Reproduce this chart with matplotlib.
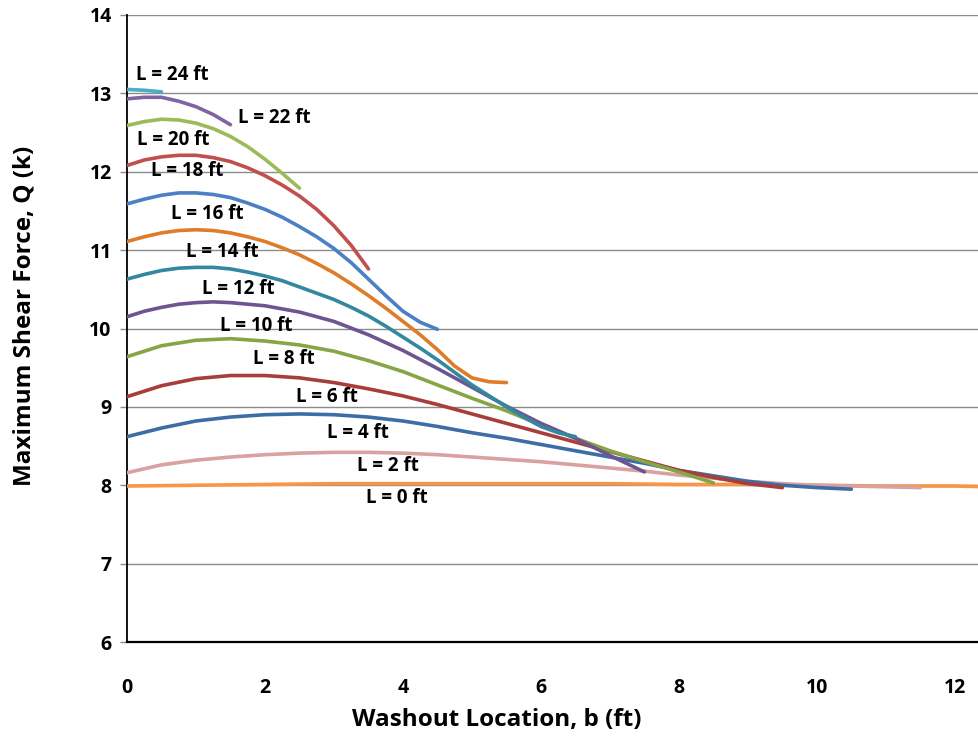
import matplotlib.pyplot as plt

# Washout location b (ft) and maximum shear Q (k) for each span length L
b_24 = [0, 0.25, 0.5]
q_24 = [13.05, 13.04, 13.02]

b_22 = [0, 0.25, 0.5, 0.75, 1.0, 1.25, 1.5]
q_22 = [12.93, 12.95, 12.95, 12.90, 12.83, 12.73, 12.60]

b_20 = [0, 0.25, 0.5, 0.75, 1.0, 1.25, 1.5, 1.75, 2.0, 2.25, 2.5]
q_20 = [12.59, 12.64, 12.67, 12.66, 12.62, 12.55, 12.45, 12.32, 12.16, 11.98, 11.79]

b_18 = [0, 0.25, 0.5, 0.75, 1.0, 1.25, 1.5, 1.75, 2.0, 2.25, 2.5, 2.75, 3.0, 3.25, 3.5]
q_18 = [12.08, 12.15, 12.19, 12.21, 12.21, 12.18, 12.13, 12.05, 11.95, 11.83, 11.69,
        11.52, 11.31, 11.06, 10.76]

b_16 = [0, 0.25, 0.5, 0.75, 1.0, 1.25, 1.5, 1.75, 2.0, 2.25, 2.5, 2.75, 3.0, 3.25,
        3.5, 3.75, 4.0, 4.25, 4.5]
q_16 = [11.59, 11.65, 11.70, 11.73, 11.73, 11.71, 11.67, 11.60, 11.52, 11.42, 11.30,
        11.17, 11.02, 10.84, 10.63, 10.42, 10.22, 10.08, 9.99]

b_14 = [0, 0.25, 0.5, 0.75, 1.0, 1.25, 1.5, 1.75, 2.0, 2.25, 2.5, 2.75, 3.0, 3.25,
        3.5, 3.75, 4.0, 4.25, 4.5, 4.75, 5.0, 5.25, 5.5]
q_14 = [11.11, 11.17, 11.22, 11.25, 11.26, 11.25, 11.22, 11.17, 11.11, 11.03, 10.94,
        10.83, 10.71, 10.57, 10.42, 10.26, 10.09, 9.92, 9.73, 9.52, 9.37, 9.32, 9.31]

b_12 = [0, 0.25, 0.5, 0.75, 1.0, 1.25, 1.5, 1.75, 2.0, 2.25, 2.5, 2.75, 3.0, 3.25,
        3.5, 3.75, 4.0, 4.25, 4.5, 4.75, 5.0, 5.25, 5.5, 5.75, 6.0, 6.25, 6.5]
q_12 = [10.63, 10.69, 10.74, 10.77, 10.78, 10.78, 10.76, 10.72, 10.67, 10.61, 10.53,
        10.45, 10.37, 10.27, 10.16, 10.03, 9.89, 9.75, 9.60, 9.44, 9.28, 9.14, 9.00,
        8.87, 8.75, 8.67, 8.62]

b_10 = [0, 0.25, 0.5, 0.75, 1.0, 1.25, 1.5, 2.0, 2.5, 3.0, 3.5, 4.0, 4.5, 5.0, 5.5,
        6.0, 6.5, 7.0, 7.5]
q_10 = [10.15, 10.22, 10.27, 10.31, 10.33, 10.34, 10.33, 10.29, 10.21, 10.09, 9.92,
        9.72, 9.49, 9.25, 9.01, 8.79, 8.60, 8.38, 8.17]

b_8 = [0, 0.5, 1.0, 1.5, 2.0, 2.5, 3.0, 3.5, 4.0, 4.5, 5.0, 5.5, 6.0, 6.5, 7.0, 7.5,
       8.0, 8.5]
q_8 = [9.64, 9.78, 9.85, 9.87, 9.84, 9.79, 9.71, 9.59, 9.45, 9.28, 9.11, 8.95, 8.77,
       8.60, 8.44, 8.30, 8.17, 8.03]

b_6 = [0, 0.5, 1.0, 1.5, 2.0, 2.5, 3.0, 3.5, 4.0, 4.5, 5.0, 5.5, 6.0, 6.5, 7.0, 7.5,
       8.0, 8.5, 9.0, 9.5]
q_6 = [9.13, 9.27, 9.36, 9.40, 9.40, 9.37, 9.31, 9.23, 9.14, 9.03, 8.91, 8.79, 8.67,
       8.55, 8.43, 8.31, 8.19, 8.10, 8.02, 7.97]

b_4 = [0, 0.5, 1.0, 1.5, 2.0, 2.5, 3.0, 3.5, 4.0, 4.5, 5.0, 5.5, 6.0, 6.5, 7.0, 7.5,
       8.0, 8.5, 9.0, 9.5, 10.0, 10.5]
q_4 = [8.62, 8.73, 8.82, 8.87, 8.90, 8.91, 8.90, 8.87, 8.82, 8.75, 8.67, 8.60, 8.52,
       8.44, 8.36, 8.28, 8.19, 8.12, 8.05, 8.00, 7.97, 7.95]

b_2 = [0, 0.5, 1.0, 1.5, 2.0, 2.5, 3.0, 3.5, 4.0, 4.5, 5.0, 5.5, 6.0, 6.5, 7.0, 7.5,
       8.0, 8.5, 9.0, 9.5, 10.0, 10.5, 11.0, 11.5]
q_2 = [8.16, 8.26, 8.32, 8.36, 8.39, 8.41, 8.42, 8.42, 8.41, 8.39, 8.36, 8.33, 8.30,
       8.26, 8.22, 8.18, 8.13, 8.09, 8.05, 8.02, 8.00, 7.99, 7.98, 7.97]

b_0 = [0, 1, 2, 3, 4, 5, 6, 7, 8, 9, 10, 11, 12, 12.5]
q_0 = [7.99, 8.00, 8.01, 8.02, 8.02, 8.02, 8.02, 8.02, 8.01, 8.01, 8.00, 7.99, 7.99, 7.98]

series = [
    ("L = 0 ft", b_0, q_0, "#F79646"),
    ("L = 2 ft", b_2, q_2, "#D9A19F"),
    ("L = 4 ft", b_4, q_4, "#3D6DA6"),
    ("L = 6 ft", b_6, q_6, "#A83E3B"),
    ("L = 8 ft", b_8, q_8, "#86A544"),
    ("L = 10 ft", b_10, q_10, "#6E5590"),
    ("L = 12 ft", b_12, q_12, "#33889F"),
    ("L = 14 ft", b_14, q_14, "#DE7C2A"),
    ("L = 16 ft", b_16, q_16, "#4C80C4"),
    ("L = 18 ft", b_18, q_18, "#C0504D"),
    ("L = 20 ft", b_20, q_20, "#9BBB59"),
    ("L = 22 ft", b_22, q_22, "#8064A2"),
    ("L = 24 ft", b_24, q_24, "#4BACC6"),
]

# label anchor points (b, Q)
label_pos = {
    "L = 0 ft": (3.91, 7.84), "L = 2 ft": (3.78, 8.25), "L = 4 ft": (3.35, 8.67),
    "L = 6 ft": (2.90, 9.13), "L = 8 ft": (2.28, 9.61), "L = 10 ft": (1.87, 10.03),
    "L = 12 ft": (1.61, 10.51), "L = 14 ft": (1.38, 10.97), "L = 16 ft": (1.17, 11.46),
    "L = 18 ft": (0.88, 12.01), "L = 20 ft": (0.67, 12.41), "L = 22 ft": (2.14, 12.69),
    "L = 24 ft": (0.65, 13.24),
}

plt.rcParams['font.family'] = ['Open Sans', 'DejaVu Sans']
plt.rcParams['font.weight'] = 'bold'

fig = plt.figure(figsize=(9.79, 7.40), dpi=100)
ax = fig.add_axes([127 / 979, 98 / 740, 1 - 127 / 979, 627 / 740])

for name, b, q, color in series:
    ax.plot(b, q, color=color, lw=2.6, solid_capstyle='round', solid_joinstyle='round',
            zorder=3)
    lx, ly = label_pos[name]
    ax.text(lx, ly, name, ha='center', va='center', fontsize=13.5, fontweight='bold',
            zorder=4)

ax.set_xlim(0, 12.35)
ax.set_ylim(6, 14)
ax.set_xticks(range(0, 13, 2))
ax.set_yticks(range(6, 15))
ax.yaxis.grid(True, color='#8c8c8c', lw=1.0)
ax.set_axisbelow(True)

ax.spines['top'].set_visible(False)
ax.spines['right'].set_visible(False)
ax.spines['left'].set_linewidth(1.3)
ax.spines['bottom'].set_linewidth(1.6)
ax.tick_params(axis='x', length=0, pad=26, labelsize=14)
ax.tick_params(axis='y', length=5, width=1, color='#8c8c8c', pad=6, labelsize=14)
for lbl in ax.get_xticklabels() + ax.get_yticklabels():
    lbl.set_fontweight('bold')

fig.text(497 / 979, 1 - 720 / 740, "Washout Location, b (ft)", ha='center', va='center',
         fontsize=17.5, fontweight='bold')
fig.text(25 / 979, 1 - 316 / 740, "Maximum Shear Force, Q (k)", ha='center', va='center',
         rotation=90, fontsize=17.5, fontweight='bold')

fig.savefig("out.png", dpi=100)
